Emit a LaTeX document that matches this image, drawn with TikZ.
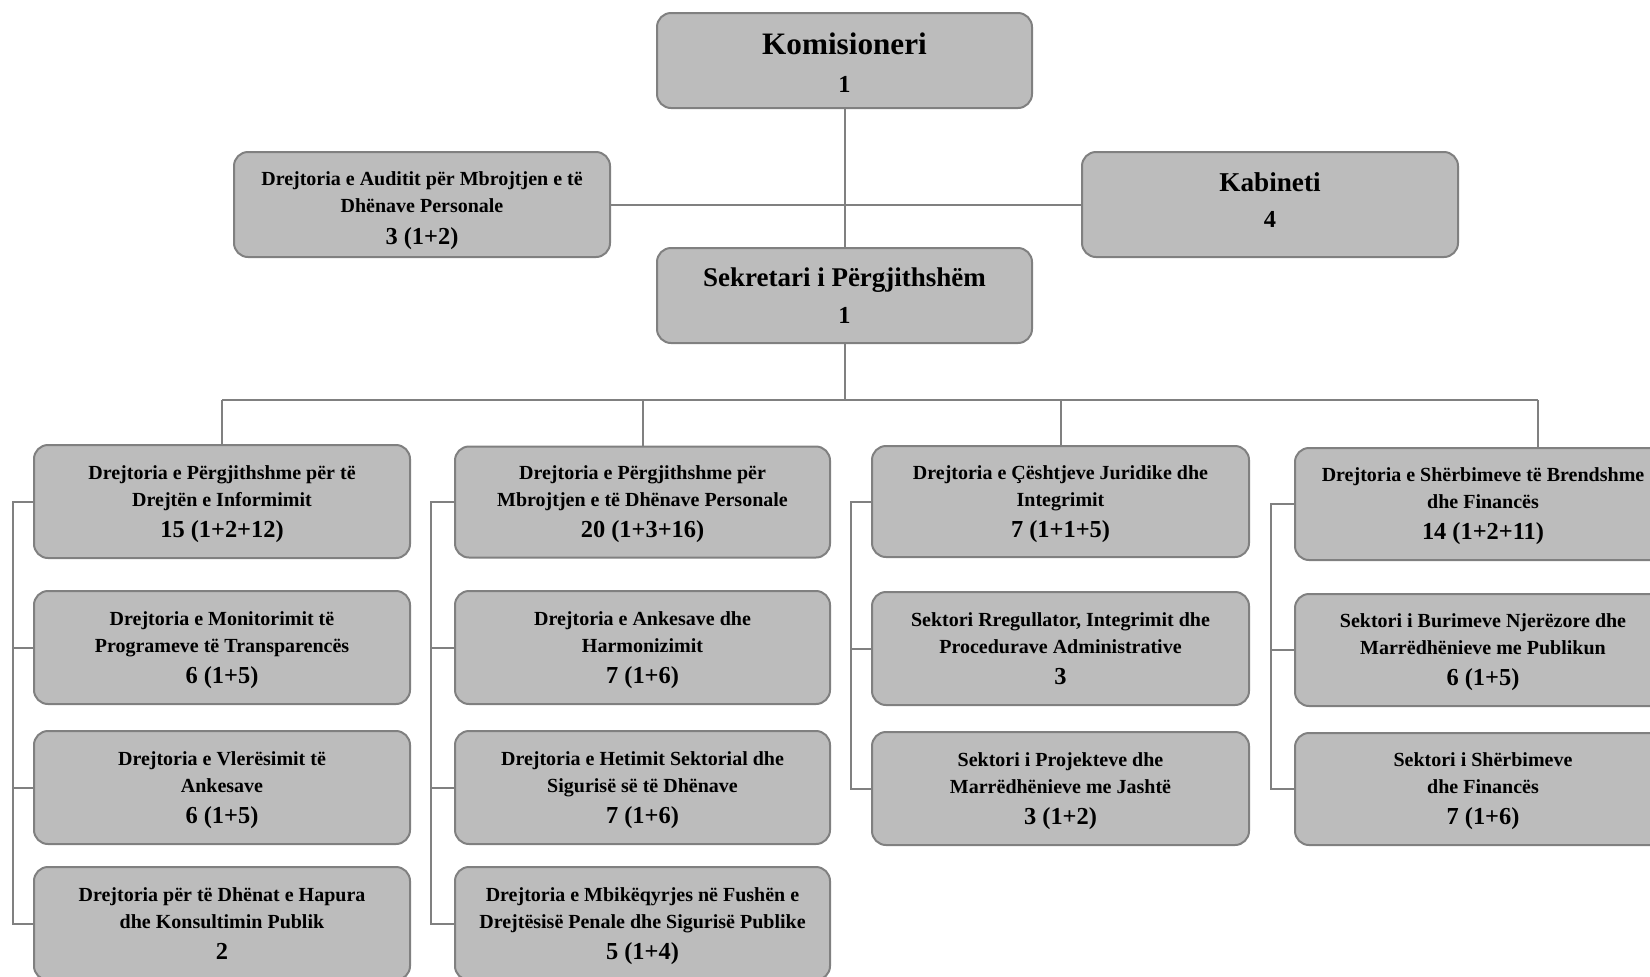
\documentclass[tikz,border=0pt]{standalone}
\usepackage{fontspec}
\setmainfont{Liberation Serif}
\definecolor{boxfill}{RGB}{188,188,188}
\definecolor{boxline}{RGB}{128,128,128}
\definecolor{conline}{RGB}{128,128,128}
\newcommand\numtxt[1]{{\fontsize{12.2}{15}\selectfont #1}}
\tikzset{
  orgbox/.style={draw=boxline, fill=boxfill, line width=1pt, rounded corners=7pt,
    align=center, inner sep=0pt, text=black, text depth=0pt,
    font=\bfseries\fontsize{10}{13.5}\selectfont},
  conn/.style={draw=conline, line width=1pt},
}
\begin{document}
\begin{tikzpicture}[x=0.5pt,y=-0.5pt]
\useasboundingbox (0,0) rectangle (1650,976);
\clip (0,0) rectangle (1650,976);
% top level
\node[orgbox, minimum width=187.5pt, minimum height=47.5pt, font=\bfseries\fontsize{15.6}{19}\selectfont] (komi) at (844.5,60.5) {\rule{0pt}{13.4pt}Komisioneri\\\numtxt{1}};
\node[orgbox, minimum width=188pt, minimum height=52.5pt, font=\bfseries\fontsize{10}{13.7}\selectfont] (audit) at (422,204.5) {\rule{0pt}{10.4pt}Drejtoria e Auditit për Mbrojtjen e të\\Dhënave Personale\\[2.5pt]\numtxt{3 (1+2)}};
\node[orgbox, minimum width=188pt, minimum height=52.5pt, text depth=4.2pt, font=\bfseries\fontsize{13.6}{18}\selectfont] (kab) at (1270,204.5) {Kabineti\\\numtxt{4}};
\node[orgbox, minimum width=187.5pt, minimum height=47.5pt, font=\bfseries\fontsize{13.5}{18.5}\selectfont] (sek) at (844.5,295.5) {Sekretari i Përgjithshëm\\\numtxt{1}};
% column 1
\node[orgbox, minimum width=188pt, minimum height=56.5pt] (c1r1) at (222,501.5) {Drejtoria e Përgjithshme për të\\Drejtën e Informimit\\[2pt]\numtxt{15 (1+2+12)}};
\node[orgbox, minimum width=188pt, minimum height=56.5pt] (c1r2) at (222,647.5) {Drejtoria e Monitorimit të\\Programeve të Transparencës\\[2pt]\numtxt{6 (1+5)}};
\node[orgbox, minimum width=188pt, minimum height=56.5pt] (c1r3) at (222,787.5) {Drejtoria e Vlerësimit të\\Ankesave\\[2pt]\numtxt{6 (1+5)}};
\node[orgbox, minimum width=188pt, minimum height=56.5pt] (c1r4) at (222,923.5) {Drejtoria për të Dhënat e Hapura\\dhe Konsultimin Publik\\[2pt]\numtxt{2}};
% column 2
\node[orgbox, minimum width=187.5pt, minimum height=55.5pt] (c2r1) at (642.5,502) {Drejtoria e Përgjithshme për\\Mbrojtjen e të Dhënave Personale\\[2pt]\numtxt{20 (1+3+16)}};
\node[orgbox, minimum width=187.5pt, minimum height=56.5pt] (c2r2) at (642.5,647.5) {Drejtoria e Ankesave dhe\\Harmonizimit\\[2pt]\numtxt{7 (1+6)}};
\node[orgbox, minimum width=187.5pt, minimum height=56.5pt] (c2r3) at (642.5,787.5) {Drejtoria e Hetimit Sektorial dhe\\Sigurisë së të Dhënave\\[2pt]\numtxt{7 (1+6)}};
\node[orgbox, minimum width=187.5pt, minimum height=56.5pt] (c2r4) at (642.5,923.5) {Drejtoria e Mbikëqyrjes në Fushën e\\Drejtësisë Penale dhe Sigurisë Publike\\[2pt]\numtxt{5 (1+4)}};
% column 3
\node[orgbox, minimum width=188.5pt, minimum height=55.5pt] (c3r1) at (1060.5,501.5) {Drejtoria e Çështjeve Juridike dhe\\Integrimit\\[2pt]\numtxt{7 (1+1+5)}};
\node[orgbox, minimum width=188.5pt, minimum height=56.5pt] (c3r2) at (1060.5,648.5) {Sektori Rregullator, Integrimit dhe\\Procedurave Administrative\\[2pt]\numtxt{3}};
\node[orgbox, minimum width=188.5pt, minimum height=56.5pt] (c3r3) at (1060.5,788.5) {Sektori i Projekteve dhe\\Marrëdhënieve me Jashtë\\[2pt]\numtxt{3 (1+2)}};
% column 4
\node[orgbox, minimum width=188pt, minimum height=56pt] (c4r1) at (1483,504) {Drejtoria e Shërbimeve të Brendshme\\dhe Financës\\[2pt]\numtxt{14 (1+2+11)}};
\node[orgbox, minimum width=188pt, minimum height=56pt] (c4r2) at (1483,650) {Sektori i Burimeve Njerëzore dhe\\Marrëdhënieve me Publikun\\[2pt]\numtxt{6 (1+5)}};
\node[orgbox, minimum width=188pt, minimum height=56pt] (c4r3) at (1483,789) {Sektori i Shërbimeve\\dhe Financës\\[2pt]\numtxt{7 (1+6)}};
% coordinates
\coordinate (busY) at (0,400);
\coordinate (j4) at (1538,400);
\coordinate (b1) at (13,0);
\coordinate (b2) at (431,0);
\coordinate (b3) at (851,0);
\coordinate (b4) at (1271,0);
% connectors top
\draw[conn] (komi.south) -- (sek.north);
\draw[conn] (audit.east) -- (kab.west);
\draw[conn] (sek.south) -- (sek.south |- busY);
\draw[conn] (c1r1.north |- busY) -- (j4);
\draw[conn] (c1r1.north |- busY) -- (c1r1.north);
\draw[conn] (c2r1.north |- busY) -- (c2r1.north);
\draw[conn] (c3r1.north |- busY) -- (c3r1.north);
\draw[conn] (j4) -- (j4 |- c4r1.north);
% column buses
\draw[conn] (c1r1.west) -- (c1r1.west -| b1) -- (c1r4.west -| b1) -- (c1r4.west);
\draw[conn] (c1r2.west) -- (c1r2.west -| b1);
\draw[conn] (c1r3.west) -- (c1r3.west -| b1);
\draw[conn] (c2r1.west) -- (c2r1.west -| b2) -- (c2r4.west -| b2) -- (c2r4.west);
\draw[conn] (c2r2.west) -- (c2r2.west -| b2);
\draw[conn] (c2r3.west) -- (c2r3.west -| b2);
\draw[conn] (c3r1.west) -- (c3r1.west -| b3) -- (c3r3.west -| b3) -- (c3r3.west);
\draw[conn] (c3r2.west) -- (c3r2.west -| b3);
\draw[conn] (c4r1.west) -- (c4r1.west -| b4) -- (c4r3.west -| b4) -- (c4r3.west);
\draw[conn] (c4r2.west) -- (c4r2.west -| b4);
\end{tikzpicture}
\end{document}
